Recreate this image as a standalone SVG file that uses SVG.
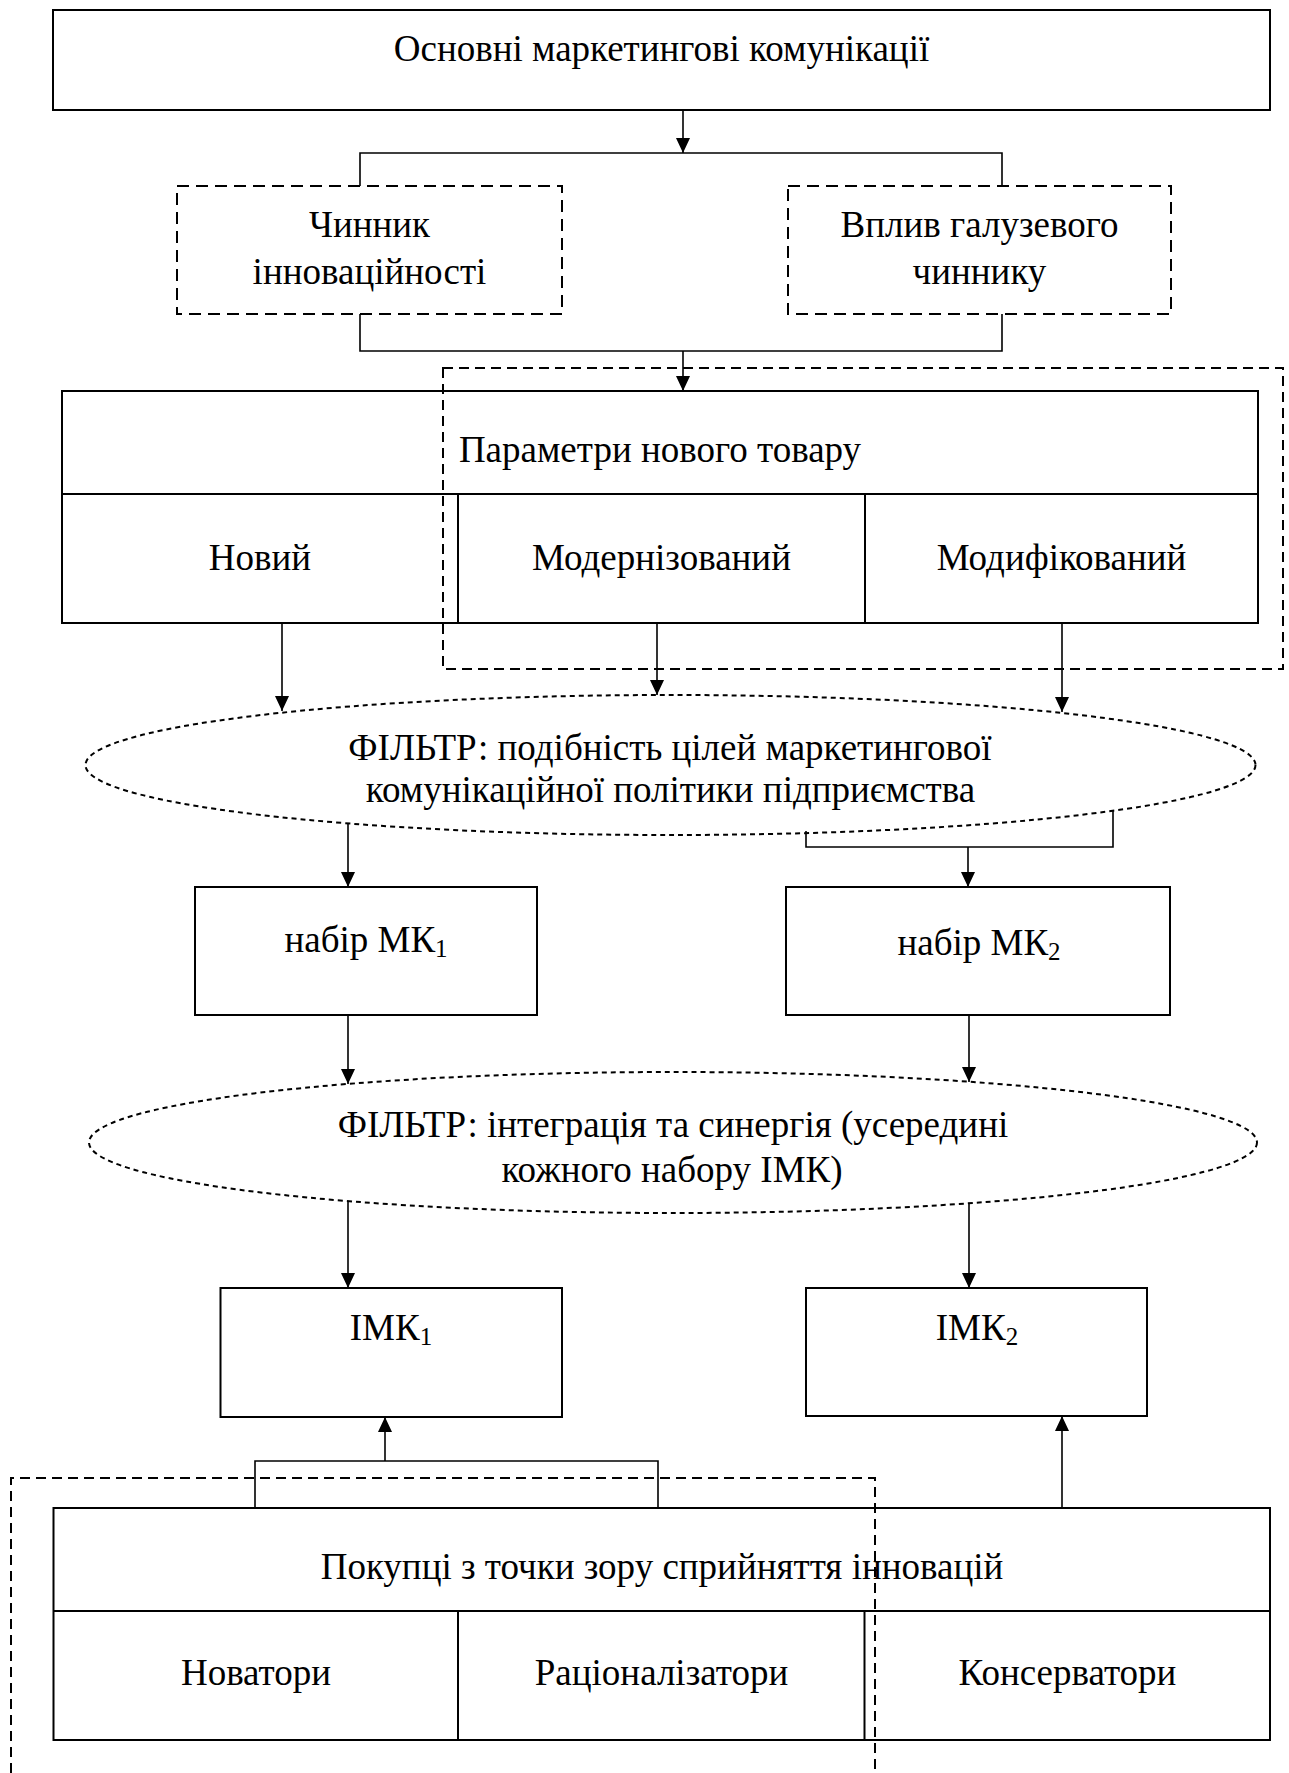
<svg xmlns="http://www.w3.org/2000/svg" width="1289" height="1773" viewBox="0 0 1289 1773">
<style>
.box{fill:none;stroke:#000;stroke-width:2}
.dbox{fill:none;stroke:#000;stroke-width:2;stroke-dasharray:12 7}
.drect{fill:none;stroke:#000;stroke-width:2;stroke-dasharray:10 6}
.ell{fill:none;stroke:#000;stroke-width:2;stroke-dasharray:5 4}
.con{fill:none;stroke:#000;stroke-width:1.6}
.arr{fill:none;stroke:#000;stroke-width:1.6;marker-end:url(#ah)}
text{font-family:"Liberation Serif","Times New Roman",serif;font-size:37px;fill:#000;text-anchor:middle}
.sub{font-size:25px}
</style>
<defs>
<marker id="ah" markerWidth="15" markerHeight="14" refX="15" refY="7" orient="auto" markerUnits="userSpaceOnUse">
<path d="M0,0 L15,7 L0,14 Z" fill="#000"/>
</marker>
</defs>

<g id="n-top">
<rect class="box" x="53" y="10" width="1217" height="100"/>
<text x="661.5" y="61">Основні маркетингові комунікації</text>
</g>

<g id="n-innov">
<rect class="dbox" x="177" y="186" width="385" height="128"/>
<text x="369.5" y="237">Чинник</text>
<text x="369.5" y="284">інноваційності</text>
</g>

<g id="n-branch">
<rect class="dbox" x="788" y="186" width="383" height="128"/>
<text x="979.5" y="237">Вплив галузевого</text>
<text x="979.5" y="284">чиннику</text>
</g>

<g id="n-params">
<rect class="box" x="62" y="391" width="1196" height="232"/>
<line class="box" x1="62" y1="494" x2="1258" y2="494"/>
<line class="box" x1="458" y1="494" x2="458" y2="623"/>
<line class="box" x1="865" y1="494" x2="865" y2="623"/>
<text x="660" y="462">Параметри нового товару</text>
<text x="260" y="570">Новий</text>
<text x="661.5" y="570">Модернізований</text>
<text x="1061.5" y="570">Модифікований</text>
</g>

<g id="n-group1">
<rect class="drect" x="443" y="368" width="840" height="301"/>
</g>

<g id="n-filter1">
<ellipse class="ell" cx="670.5" cy="765" rx="585" ry="70"/>
<text x="670" y="760">ФІЛЬТР: подібність цілей маркетингової</text>
<text x="670.5" y="802">комунікаційної політики підприємства</text>
</g>

<g id="n-mk1">
<rect class="box" x="195" y="887" width="342" height="128"/>
<text x="366" y="952">набір МК<tspan class="sub" dy="5">1</tspan></text>
</g>

<g id="n-mk2">
<rect class="box" x="786" y="887" width="384" height="128"/>
<text x="979" y="955">набір МК<tspan class="sub" dy="5">2</tspan></text>
</g>

<g id="n-filter2">
<ellipse class="ell" cx="673" cy="1142.5" rx="584" ry="70.5"/>
<text x="673" y="1137">ФІЛЬТР: інтеграція та синергія (усередині</text>
<text x="672" y="1182">кожного набору ІМК)</text>
</g>

<g id="n-imk1">
<rect class="box" x="220.5" y="1288" width="341.5" height="129"/>
<text x="391" y="1340">ІМК<tspan class="sub" dy="5">1</tspan></text>
</g>

<g id="n-imk2">
<rect class="box" x="806" y="1288" width="341" height="128"/>
<text x="977" y="1340">ІМК<tspan class="sub" dy="5">2</tspan></text>
</g>

<g id="n-buyers">
<rect class="box" x="53.5" y="1508" width="1216.5" height="232"/>
<line class="box" x1="53.5" y1="1611" x2="1270" y2="1611"/>
<line class="box" x1="458" y1="1611" x2="458" y2="1740"/>
<line class="box" x1="864.5" y1="1611" x2="864.5" y2="1740"/>
<text x="662" y="1579">Покупці з точки зору сприйняття інновацій</text>
<text x="256" y="1685">Новатори</text>
<text x="661.5" y="1685">Раціоналізатори</text>
<text x="1067.5" y="1685">Консерватори</text>
</g>

<g id="n-group2">
<path class="drect" d="M11,1773 V1478 H875 V1773"/>
</g>

<g id="connectors">
<line class="arr" x1="683" y1="110" x2="683" y2="153"/>
<path class="con" d="M360,186 V153 H1002 V186"/>
<path class="con" d="M360,314 V351 H1002 V314"/>
<line class="arr" x1="683" y1="351" x2="683" y2="391"/>
<line class="arr" x1="282" y1="623" x2="282" y2="711"/>
<line class="arr" x1="657" y1="623" x2="657" y2="695"/>
<line class="arr" x1="1062" y1="623" x2="1062" y2="712"/>
<line class="arr" x1="348" y1="823" x2="348" y2="887"/>
<path class="con" d="M806,831 V847 H1113 V811"/>
<line class="arr" x1="968" y1="847" x2="968" y2="887"/>
<line class="arr" x1="348" y1="1015" x2="348" y2="1084"/>
<line class="arr" x1="969" y1="1015" x2="969" y2="1082"/>
<line class="arr" x1="348" y1="1201" x2="348" y2="1288"/>
<line class="arr" x1="969" y1="1203" x2="969" y2="1288"/>
<path class="con" d="M255,1508 V1461 H658 V1508"/>
<line class="arr" x1="385" y1="1461" x2="385" y2="1417"/>
<line class="arr" x1="1062" y1="1508" x2="1062" y2="1416"/>
</g>
</svg>
